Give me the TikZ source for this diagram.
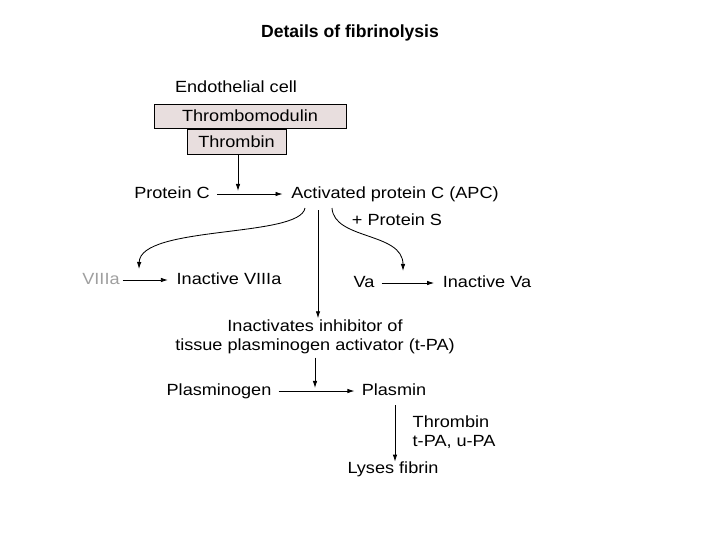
\documentclass[tikz,border=0pt]{standalone}
\usepackage{fontspec}
\setmainfont{Liberation Sans}
\newfontfamily\scanfont{Liberation Sans}[FakeStretch=1.12]
\usetikzlibrary{arrows.meta}
\definecolor{boxfill}{RGB}{232,222,222}
\tikzset{label/.style = {font = \scanfont\fontsize{11.5}{13.5}\selectfont, inner sep = 1pt}}
\tikzset{word/.style = {label, text height = 0.72em, text depth = 0.08em}}
\tikzset{membrane/.style = {draw, fill = boxfill, line width = 0.6pt, inner sep = 0pt, label}}
\tikzset{edge/.style = {line width = 0.6pt, -{Latex[length=5pt, width=3.2pt]}}}

\begin{document}
\begin{tikzpicture}[x = 0.025cm, y = -0.025cm]
				\useasboundingbox (0, 0) rectangle (720, 540);
				\node[font = \bfseries\fontsize{12.5}{14}\selectfont] (title) at (350, 33) {Details of fibrinolysis};
	
				\node[word] (endo) at (236, 88) {Endothelial cell};
				\node[membrane, minimum width = 4.8cm, minimum height = 0.6cm] (tmod) at (250, 116) {Thrombomodulin};
				\node[membrane, minimum width = 2.475cm, minimum height = 0.625cm] (thr) at (236.5, 141.5) {Thrombin};
	
				\node[word] (pc) at (172, 194) {Protein C};
				\node[word] (apc) at (395, 194) {Activated protein C (APC)};
				\node[word] (ps) at (397, 221) {+ Protein S};
				\node[word, text = gray!75] (viii) at (101, 280) {VIIIa};
				\node[word] (inviii) at (229, 280) {Inactive VIIIa};
				\node[word] (va) at (364, 283) {Va};
				\node[word] (inva) at (487, 283) {Inactive Va};
				\node[label, align = center] (inh) at (315, 337) {Inactivates inhibitor of\\tissue plasminogen activator (t-PA)};
				\node[word] (plg) at (219, 391) {Plasminogen};
				\node[word] (pls) at (394, 391) {Plasmin};
				\node[label, align = left, anchor = west] (enz) at (411, 432) {Thrombin\\t-PA, u-PA};
				\node[word] (lys) at (393, 469) {Lyses fibrin};
	
				\coordinate (j1) at (238, 191);
				\coordinate (j2) at (315, 388);
				\coordinate (l0) at (305, 208);
				\coordinate (l1) at (139, 269);
				\coordinate (m0) at (318, 210);
				\coordinate (r0) at (332, 208);
				\coordinate (r1) at (403, 271);
				\coordinate (p0) at (395, 405);
	
				\draw[edge] (thr.south -| j1) to (j1);
				\draw[edge, shorten <= 4pt, shorten >= 5pt] (pc) to (apc);
				\draw[edge] (l0) .. controls (300, 238) and (140, 225) .. (l1);
				\draw[edge] (r0) .. controls (334, 240) and (403, 232) .. (r1);
				\draw[edge] (m0) to (inh.north -| m0);
				\draw[edge, shorten <= 1pt, shorten >= 5pt] (viii) to (inviii);
				\draw[edge, shorten <= 4pt, shorten >= 5pt] (va) to (inva);
				\draw[edge] (inh.south -| j2) ++(0, 2) to (j2);
				\draw[edge, shorten <= 4pt, shorten >= 4pt] (plg) to (pls);
				\draw[edge] (p0) to (lys.north -| p0);
			\end{tikzpicture}
\end{document}
